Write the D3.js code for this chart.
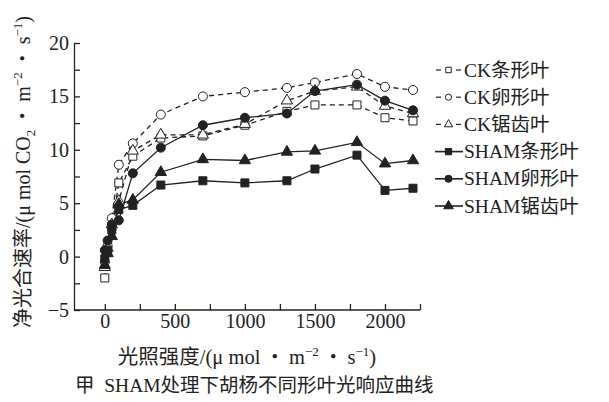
<!DOCTYPE html>
<html>
<head>
<meta charset="utf-8">
<script src="https://cdn.jsdelivr.net/npm/d3@7"></script>
<style>
  body { margin: 0; background: #fff; }
  svg { font-family: "Liberation Serif", "Noto Sans CJK SC", serif; }
</style>
</head>
<body>
<div id="chart"></div>
<script>
// light intensity (x) and net photosynthetic rate per series
let light = [0, 20, 50, 100, 200, 400, 700, 1000, 1300, 1500, 1800, 2000, 2200];

let ckStrip  = [-2.0, 0.5, 2.8, 6.9, 9.4, 11.1, 11.3, 12.3, 13.6, 14.2, 14.2, 13.0, 12.7];
let ckOval   = [-0.5, 1.0, 3.6, 8.6, 10.6, 13.3, 15.0, 15.4, 15.8, 16.3, 17.1, 15.9, 15.6];
let ckSaw    = [-1.0, 0.8, 3.0, 5.2, 9.9, 11.4, 11.4, 12.4, 14.6, 15.5, 15.9, 14.1, 13.4];
let shamStrip = [-0.2, 0.6, 2.5, 4.4, 4.8, 6.7, 7.1, 6.9, 7.1, 8.2, 9.5, 6.2, 6.4];
let shamOval  = [0.6, 1.5, 3.0, 3.4, 7.8, 10.2, 12.3, 13.0, 13.4, 15.5, 16.1, 14.6, 13.7];
let shamSaw   = [-0.8, 0.3, 1.9, 4.9, 5.3, 7.9, 9.1, 9.0, 9.8, 9.9, 10.7, 8.7, 9.0];

let seriesNames = ["CK条形叶", "CK卵形叶", "CK锯齿叶", "SHAM条形叶", "SHAM卵形叶", "SHAM锯齿叶"];
let yTicks = [-5, 0, 5, 10, 15, 20];
let xTicks = [0, 500, 1000, 1500, 2000];

let width = 609, height = 402;

let series = [
  {name: seriesNames[0], values: ckStrip,  shape: d3.symbolSquare,   open: true},
  {name: seriesNames[1], values: ckOval,   shape: d3.symbolCircle,   open: true},
  {name: seriesNames[2], values: ckSaw,    shape: d3.symbolTriangle, open: true},
  {name: seriesNames[3], values: shamStrip, shape: d3.symbolSquare,   open: false},
  {name: seriesNames[4], values: shamOval,  shape: d3.symbolCircle,   open: false},
  {name: seriesNames[5], values: shamSaw,   shape: d3.symbolTriangle, open: false}
];

let x = d3.scaleLinear().domain([-220, 2250]).range([74, 420]);
let y = d3.scaleLinear().domain([-5, 20]).range([310, 43]);

let svg = d3.select("#chart").append("svg")
  .attr("width", width)
  .attr("height", height);

// axes, ticks pointing inward
let yAxis = svg.append("g")
  .attr("transform", "translate(" + x(-220) + ",0)")
  .call(d3.axisLeft(y)
    .tickValues(d3.range(-5, 20.1, 2.5))
    .tickSizeInner(-6).tickSizeOuter(0).tickPadding(5)
    .tickFormat(d => yTicks.includes(d) ? (d < 0 ? "\u2212" + Math.abs(d) : d) : ""));

let xAxis = svg.append("g")
  .attr("transform", "translate(0," + y(-5) + ")")
  .call(d3.axisBottom(x)
    .tickValues(d3.range(0, 2251, 250))
    .tickSizeInner(-6).tickSizeOuter(0).tickPadding(4)
    .tickFormat(d => xTicks.includes(d) ? d : ""));

// x axis domain only spans the plotted range from the y axis
xAxis.select(".domain").attr("d", "M" + x(-220) + ",0H" + x(2250));

svg.selectAll(".tick text").attr("font-size", 20).attr("fill", "#222")
  .attr("font-family", "Liberation Serif, serif");
svg.selectAll(".domain, .tick line").attr("stroke", "#222").attr("stroke-width", 1.3);

function symbolSize(shape) {
  if (shape === d3.symbolSquare) return 64;
  if (shape === d3.symbolTriangle) return 55;
  return 64;
}

let line = d3.line()
  .x((d, i) => x(light[i]))
  .y(d => y(d));

let plot = svg.append("g");

series.forEach(s => {
  plot.append("path")
    .datum(s.values)
    .attr("d", line)
    .attr("fill", "none")
    .attr("stroke", "#222")
    .attr("stroke-width", 1.3)
    .attr("stroke-dasharray", s.open ? "5,4" : null);
});

series.forEach(s => {
  plot.selectAll(null)
    .data(s.values)
    .enter()
    .append("path")
    .attr("d", d3.symbol().type(s.shape).size(symbolSize(s.shape)))
    .attr("transform", (d, i) => "translate(" + x(light[i]) + "," + y(d) + ")")
    .attr("fill", s.open ? "#fff" : "#222")
    .attr("stroke", "#222")
    .attr("stroke-width", 1);
});

// legend
let legend = svg.append("g");
series.forEach((s, i) => {
  let ly = 70 + i * 27.2;
  let g = legend.append("g").attr("transform", "translate(0," + ly + ")");
  if (s.open) {
    g.append("line").attr("x1", 436).attr("x2", 441).attr("y1", 0).attr("y2", 0)
      .attr("stroke", "#222").attr("stroke-width", 1.2);
    g.append("line").attr("x1", 456).attr("x2", 461).attr("y1", 0).attr("y2", 0)
      .attr("stroke", "#222").attr("stroke-width", 1.2);
  } else {
    g.append("line").attr("x1", 435).attr("x2", 463).attr("y1", 0).attr("y2", 0)
      .attr("stroke", "#222").attr("stroke-width", 1.6);
  }
  g.append("path")
    .attr("d", d3.symbol().type(s.shape).size(s.open ? 30 : 40))
    .attr("transform", "translate(448.5,0)")
    .attr("fill", s.open ? "#fff" : "#222")
    .attr("stroke", "#222")
    .attr("stroke-width", 1);
  g.append("text")
    .attr("x", 464).attr("y", 6.5)
    .attr("font-size", 19.5).attr("fill", "#222")
    .text(s.name);
});

let sp = "\u2009\u30FB\u2009";

// y axis title
let yt = svg.append("text")
  .attr("transform", "translate(30,172) rotate(-90)")
  .attr("text-anchor", "middle")
  .attr("font-size", 20).attr("fill", "#222");
yt.append("tspan").text("净光合速率/(μ mol CO");
yt.append("tspan").attr("font-size", 13).attr("dy", 5).text("2");
yt.append("tspan").attr("dy", -5).text(sp + "m");
yt.append("tspan").attr("font-size", 13).attr("dy", -8).text("−2");
yt.append("tspan").attr("dy", 8).text(sp + "s");
yt.append("tspan").attr("font-size", 13).attr("dy", -8).text("−1");
yt.append("tspan").attr("dy", 8).text(")");

// x axis title
let xt = svg.append("text")
  .attr("x", 247).attr("y", 364)
  .attr("text-anchor", "middle")
  .attr("font-size", 20.5).attr("fill", "#222");
xt.append("tspan").text("光照强度/(μ mol" + sp + "m");
xt.append("tspan").attr("font-size", 13).attr("dy", -8).text("−2");
xt.append("tspan").attr("dy", 8).text(sp + "s");
xt.append("tspan").attr("font-size", 13).attr("dy", -8).text("−1");
xt.append("tspan").attr("dy", 8).text(")");

// caption
svg.append("text")
  .attr("x", 75).attr("y", 392)
  .attr("font-size", 19.5).attr("fill", "#222")
  .attr("xml:space", "preserve")
  .text("甲  SHAM处理下胡杨不同形叶光响应曲线");
</script>
</body>
</html>
